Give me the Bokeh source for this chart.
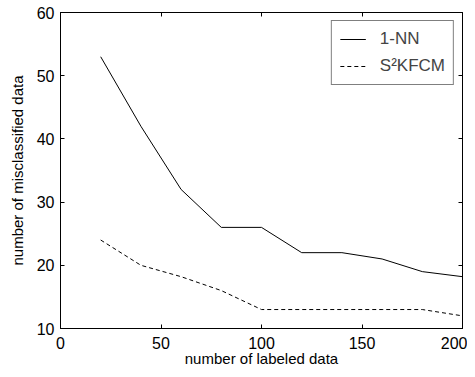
from bokeh.plotting import figure
from bokeh.models import LinearAxis, Legend, LegendItem, FixedTicker, CustomJSTickFormatter
from bokeh.embed import file_html
from bokeh.resources import INLINE

x_labeled = [20, 40, 60, 80, 100, 120, 140, 160, 180, 200]
nn_errors = [53, 42, 32, 26, 26, 22, 22, 21, 19, 18.2]
s2kfcm_errors = [24, 20, 18.2, 16, 13, 13, 13, 13, 13, 12]
x_ticks = [0, 50, 100, 150, 200]
y_ticks = [10, 20, 30, 40, 50, 60]

FONT = "Liberation Sans"

p = figure(width=467, height=369, output_backend="svg", toolbar_location=None,
           x_range=(0, 200), y_range=(10, 60),
           frame_width=402, frame_height=316,
           min_border_left=60, min_border_top=12, min_border_right=5, min_border_bottom=41)
p.xgrid.visible = False
p.ygrid.visible = False
p.outline_line_color = "black"
p.outline_line_width = 1
p.background_fill_color = "white"
p.border_fill_color = "white"

for ax in (p.xaxis[0], p.yaxis[0]):
    ax.major_tick_in = 4
    ax.major_tick_out = 0
    ax.minor_tick_in = 0
    ax.minor_tick_out = 0
    ax.axis_line_color = "black"
    ax.major_tick_line_color = "black"
    ax.major_label_text_font = FONT
    ax.major_label_text_font_size = "16px"
    ax.major_label_text_color = "black"
    ax.axis_label_text_font = FONT
    ax.axis_label_text_font_size = "15px"
    ax.axis_label_text_font_style = "normal"
    ax.axis_label_text_color = "black"

p.xaxis[0].ticker = FixedTicker(ticks=x_ticks)
p.yaxis[0].ticker = FixedTicker(ticks=y_ticks)
p.xaxis[0].axis_label = "number of labeled data"
p.yaxis[0].axis_label = "number of misclassified data"
p.xaxis[0].major_label_standoff = 8
p.xaxis[0].axis_label_standoff = -2
p.yaxis[0].major_label_standoff = 6
p.yaxis[0].axis_label_standoff = 8

blank = CustomJSTickFormatter(code="return ''")
for loc, tk in (("right", y_ticks), ("above", x_ticks)):
    ax = LinearAxis(ticker=FixedTicker(ticks=tk), major_tick_in=4, major_tick_out=0,
                    minor_tick_in=0, minor_tick_out=0, formatter=blank,
                    major_label_standoff=0, axis_line_color="black")
    p.add_layout(ax, loc)

r1 = p.line(x_labeled, nn_errors, line_color="black", line_width=1)
r2 = p.line(x_labeled, s2kfcm_errors, line_color="black", line_width=1, line_dash="4 3")

legend = Legend(items=[LegendItem(label="1-NN", renderers=[r1]),
                       LegendItem(label="S\u00b2KFCM", renderers=[r2])],
                location="top_right")
legend.border_line_color = "black"
legend.border_line_width = 1
legend.label_text_font = FONT
legend.label_text_font_size = "17px"
legend.glyph_width = 26
legend.glyph_height = 18
legend.label_height = 18
legend.spacing = 7
legend.padding = 8
legend.margin = 8
legend.label_standoff = 14
legend.background_fill_alpha = 1
p.add_layout(legend)

open("out.html", "w").write(file_html(p, INLINE))
